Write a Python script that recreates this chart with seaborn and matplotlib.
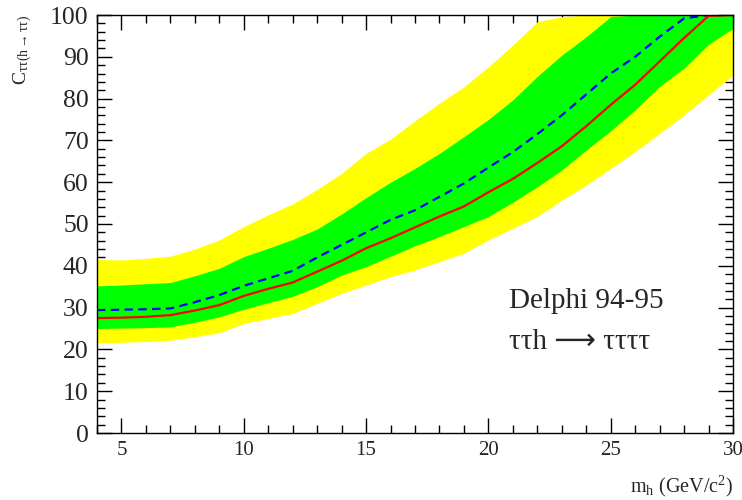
import numpy as np
import pandas as pd
import matplotlib
matplotlib.use('agg')
import matplotlib.pyplot as plt
import seaborn as sns
from matplotlib.ticker import MultipleLocator

# Higgs mass points (GeV/c^2)
mass = [4, 5, 6, 7, 8, 9, 10, 11, 12, 13, 14, 15, 16, 17,
        18, 19, 20, 21, 22, 23, 24, 25, 26, 27, 28, 29, 30]

observed = [27.5, 27.6, 27.8, 28.2, 29.3, 30.6, 32.8, 34.5, 36.0, 38.6, 41.2, 44.2, 46.6, 49.2,
            51.8, 54.2, 57.6, 60.8, 64.6, 68.6, 73.4, 78.5, 83.3, 88.9, 94.5, 99.8, 100]
expected = [29.4, 29.5, 29.6, 29.8, 31.3, 33.0, 35.2, 37.0, 38.8, 42.0, 45.0, 48.0, 51.0, 53.3,
            56.5, 59.7, 63.5, 67.2, 71.5, 76.0, 81.0, 86.0, 90.0, 94.8, 99.2, 100, 100]
sig1_up = [35.2, 35.4, 35.7, 36.0, 37.6, 39.4, 42.2, 44.2, 46.3, 48.8, 52.4, 56.3, 60.0, 63.3,
           66.9, 70.9, 75.0, 79.7, 85.3, 90.4, 94.8, 99.6, 100, 100, 100, 100, 100]
sig1_dn = [25.0, 25.1, 25.2, 25.4, 26.5, 27.8, 29.6, 31.2, 32.7, 35.0, 37.8, 39.8, 42.3, 44.8,
           47.0, 49.4, 51.8, 55.2, 58.9, 62.9, 67.7, 72.3, 77.3, 82.9, 87.3, 93.0, 96.8]
sig2_up = [41.5, 41.4, 41.8, 42.3, 44.0, 46.2, 49.4, 52.2, 54.8, 58.3, 62.1, 66.9, 70.3, 74.7,
           78.9, 82.8, 87.6, 92.8, 98.4, 99.6, 100, 100, 100, 100, 100, 100, 100]
sig2_dn = [21.6, 21.7, 21.9, 22.2, 23.0, 24.0, 26.2, 27.4, 28.6, 31.0, 33.4, 35.4, 37.4, 39.0,
           41.0, 43.0, 46.2, 49.0, 51.8, 55.7, 59.3, 63.3, 67.3, 71.7, 76.1, 80.9, 85.6]

df = pd.DataFrame({'mass': mass, 'observed': observed, 'expected': expected})

sns.set_style('ticks')
plt.rcParams['font.family'] = ['Liberation Serif', 'DejaVu Sans']
plt.rcParams['mathtext.fontset'] = 'custom'
plt.rcParams['mathtext.rm'] = 'Liberation Serif'
plt.rcParams['mathtext.it'] = 'Liberation Serif'

fig = plt.figure(figsize=(7.42, 5.0), dpi=100)
ax = fig.add_axes([0.1307, 0.134, 0.8572, 0.836])

ax.fill_between(mass, sig2_dn, sig2_up, color='#ffff00', lw=0)
ax.fill_between(mass, sig1_dn, sig1_up, color='#00ff00', lw=0)
sns.lineplot(data=df, x='mass', y='expected', ax=ax, color='#0000ff', lw=1.6,
             dashes=False, linestyle=(0, (3.8, 2.4)))
sns.lineplot(data=df, x='mass', y='observed', ax=ax, color='#ff0000', lw=1.6)

ax.set_xlim(4, 30)
ax.set_ylim(0, 100)
ax.xaxis.set_major_locator(MultipleLocator(5))
ax.xaxis.set_minor_locator(MultipleLocator(1))
ax.yaxis.set_major_locator(MultipleLocator(10))
ax.yaxis.set_minor_locator(MultipleLocator(2))
ax.tick_params(which='both', direction='in', top=True, right=True, width=1, color='black')
ax.tick_params(which='major', length=10.8)
ax.tick_params(which='minor', length=5.8)
ax.tick_params(axis='x', labelsize=15, pad=6)
ax.tick_params(axis='y', labelsize=18.5, pad=6)
for s in ax.spines.values():
    s.set_linewidth(1.0)
    s.set_color('black')

ax.set_xlabel('')
ax.set_ylabel('')
fig.text(0.988, 0.028, r'm$_\mathrm{h}$ (GeV/c$^\mathrm{2}$)', ha='right', va='center', fontsize=14.5)
fig.text(0.03, 0.97, r'C$_{\mathrm{\tau\tau(h\rightarrow\tau\tau)}}$', ha='center', va='top',
         rotation=90, fontsize=14)

ax.text(20.85, 30, 'Delphi 94-95', fontsize=21, va='baseline')
ax.text(20.85, 20, 'ττh ⟶ ττττ', fontsize=21, va='baseline')

plt.savefig('out.png', dpi=100)
plt.close()
